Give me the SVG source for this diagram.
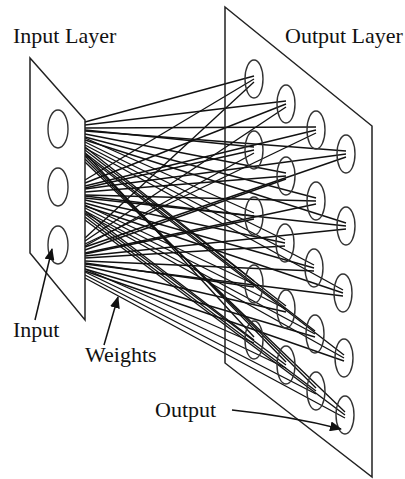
<svg xmlns="http://www.w3.org/2000/svg" width="405" height="479" viewBox="0 0 405 479">
<style>
.w{stroke:#111;stroke-width:1.35;fill:none}
.plane{stroke:#222;stroke-width:1.5}
.node{fill:none;stroke:#333;stroke-width:1.4}
.lbl{font-family:"Liberation Serif","Times New Roman",serif;font-size:22px;fill:#111}
.arr{stroke:#111;stroke-width:1.5;fill:none}
</style>
<defs>
<marker id="ah" viewBox="0 0 12 10" refX="11" refY="5" markerWidth="12" markerHeight="10" markerUnits="userSpaceOnUse" orient="auto">
<path d="M0,0 L12,5 L0,10 Z" fill="#111"/>
</marker>
</defs>
<rect width="405" height="479" fill="#fff"/>
<g id="connectors">
<line class="w" x1="85" y1="122" x2="254" y2="76"/><line class="w" x1="85" y1="180" x2="254" y2="79"/><line class="w" x1="85" y1="238" x2="254" y2="82"/>
<line class="w" x1="85" y1="125" x2="286" y2="101"/><line class="w" x1="85" y1="183" x2="286" y2="104"/><line class="w" x1="85" y1="241" x2="286" y2="107"/>
<line class="w" x1="85" y1="128" x2="316" y2="127"/><line class="w" x1="85" y1="186" x2="316" y2="130"/><line class="w" x1="85" y1="244" x2="316" y2="133"/>
<line class="w" x1="85" y1="131" x2="346" y2="151"/><line class="w" x1="85" y1="189" x2="346" y2="154"/><line class="w" x1="85" y1="247" x2="346" y2="157"/>
<line class="w" x1="85" y1="130" x2="254" y2="147"/><line class="w" x1="85" y1="188" x2="254" y2="150"/><line class="w" x1="85" y1="246" x2="254" y2="153"/>
<line class="w" x1="85" y1="134" x2="286" y2="173"/><line class="w" x1="85" y1="192" x2="286" y2="176"/><line class="w" x1="85" y1="250" x2="286" y2="179"/>
<line class="w" x1="85" y1="137" x2="316" y2="198"/><line class="w" x1="85" y1="195" x2="316" y2="201"/><line class="w" x1="85" y1="253" x2="316" y2="204"/>
<line class="w" x1="85" y1="140" x2="346" y2="223"/><line class="w" x1="85" y1="198" x2="346" y2="226"/><line class="w" x1="85" y1="256" x2="346" y2="229"/>
<line class="w" x1="85" y1="138" x2="254" y2="213"/><line class="w" x1="85" y1="196" x2="254" y2="216"/><line class="w" x1="85" y1="254" x2="254" y2="219"/>
<line class="w" x1="85" y1="142" x2="285" y2="240"/><line class="w" x1="85" y1="200" x2="285" y2="243"/><line class="w" x1="85" y1="258" x2="285" y2="246"/>
<line class="w" x1="85" y1="145" x2="314" y2="265"/><line class="w" x1="85" y1="203" x2="314" y2="268"/><line class="w" x1="85" y1="261" x2="314" y2="271"/>
<line class="w" x1="85" y1="148" x2="343" y2="290"/><line class="w" x1="85" y1="206" x2="343" y2="293"/><line class="w" x1="85" y1="264" x2="343" y2="296"/>
<line class="w" x1="85" y1="147" x2="254" y2="281"/><line class="w" x1="85" y1="205" x2="254" y2="284"/><line class="w" x1="85" y1="263" x2="254" y2="287"/>
<line class="w" x1="85" y1="150" x2="286" y2="306"/><line class="w" x1="85" y1="208" x2="286" y2="309"/><line class="w" x1="85" y1="266" x2="286" y2="312"/>
<line class="w" x1="85" y1="153" x2="315" y2="331"/><line class="w" x1="85" y1="211" x2="315" y2="334"/><line class="w" x1="85" y1="269" x2="315" y2="337"/>
<line class="w" x1="85" y1="155" x2="344" y2="355"/><line class="w" x1="85" y1="213" x2="344" y2="358"/><line class="w" x1="85" y1="271" x2="344" y2="361"/>
<line class="w" x1="85" y1="153" x2="254" y2="337"/><line class="w" x1="85" y1="211" x2="254" y2="340"/><line class="w" x1="85" y1="269" x2="254" y2="343"/>
<line class="w" x1="85" y1="156" x2="286" y2="362"/><line class="w" x1="85" y1="214" x2="286" y2="365"/><line class="w" x1="85" y1="272" x2="286" y2="368"/>
<line class="w" x1="85" y1="159" x2="316" y2="388"/><line class="w" x1="85" y1="217" x2="316" y2="391"/><line class="w" x1="85" y1="275" x2="316" y2="394"/>
<line class="w" x1="85" y1="162" x2="345" y2="412"/><line class="w" x1="85" y1="220" x2="345" y2="415"/><line class="w" x1="85" y1="278" x2="345" y2="418"/>
</g>
<g id="input-layer">
<polygon class="plane" points="30,58 85,120 85,320 30,253" fill="#fff"/>
<text class="lbl" x="13" y="43">Input Layer</text>
</g>
<g id="in1"><ellipse class="node" cx="58" cy="129" rx="10" ry="19"/></g>
<g id="in2"><ellipse class="node" cx="58" cy="187" rx="10" ry="19"/></g>
<g id="in3"><ellipse class="node" cx="58" cy="245" rx="10" ry="19"/></g>
<g id="output-layer">
<polygon class="plane" points="225,7 372,126 372,477 225,363" fill="none"/>
<text class="lbl" x="285" y="43">Output Layer</text>
</g>
<g id="out1"><ellipse class="node" cx="254" cy="79" rx="9" ry="19"/></g>
<g id="out2"><ellipse class="node" cx="286" cy="104" rx="9" ry="19"/></g>
<g id="out3"><ellipse class="node" cx="316" cy="130" rx="9" ry="19"/></g>
<g id="out4"><ellipse class="node" cx="346" cy="154" rx="9" ry="19"/></g>
<g id="out5"><ellipse class="node" cx="254" cy="150" rx="9" ry="19"/></g>
<g id="out6"><ellipse class="node" cx="286" cy="176" rx="9" ry="19"/></g>
<g id="out7"><ellipse class="node" cx="316" cy="201" rx="9" ry="19"/></g>
<g id="out8"><ellipse class="node" cx="346" cy="226" rx="9" ry="19"/></g>
<g id="out9"><ellipse class="node" cx="254" cy="216" rx="9" ry="19"/></g>
<g id="out10"><ellipse class="node" cx="285" cy="243" rx="9" ry="19"/></g>
<g id="out11"><ellipse class="node" cx="314" cy="268" rx="9" ry="19"/></g>
<g id="out12"><ellipse class="node" cx="343" cy="293" rx="9" ry="19"/></g>
<g id="out13"><ellipse class="node" cx="254" cy="284" rx="9" ry="19"/></g>
<g id="out14"><ellipse class="node" cx="286" cy="309" rx="9" ry="19"/></g>
<g id="out15"><ellipse class="node" cx="315" cy="334" rx="9" ry="19"/></g>
<g id="out16"><ellipse class="node" cx="344" cy="358" rx="9" ry="19"/></g>
<g id="out17"><ellipse class="node" cx="254" cy="340" rx="9" ry="19"/></g>
<g id="out18"><ellipse class="node" cx="286" cy="365" rx="9" ry="19"/></g>
<g id="out19"><ellipse class="node" cx="316" cy="391" rx="9" ry="19"/></g>
<g id="out20"><ellipse class="node" cx="345" cy="415" rx="9" ry="19"/></g>
<g id="labels">
<text class="lbl" x="13" y="337">Input</text>
<line class="arr" x1="35" y1="320" x2="52" y2="249" marker-end="url(#ah)"/>
<text class="lbl" x="85" y="362">Weights</text>
<line class="arr" x1="104" y1="345" x2="118" y2="297" marker-end="url(#ah)"/>
<text class="lbl" x="155" y="417">Output</text>
<path class="arr" d="M232,410 Q290,416 341,429" marker-end="url(#ah)"/>
</g>
</svg>
